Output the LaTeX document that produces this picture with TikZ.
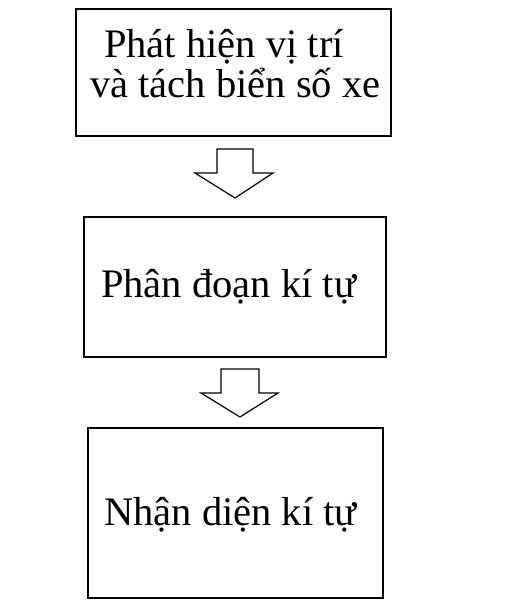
\documentclass[tikz,border=0pt]{standalone}
\usepackage{fontspec}
\setmainfont{Liberation Serif}
\begin{document}
\begin{tikzpicture}[x=1pt,y=-1pt,
  box/.style={draw=black,line width=1.8pt},
  lbl/.style={inner sep=0pt,anchor=base west,font=\fontsize{40.5}{41}\selectfont},
  blockarrow/.style={draw=black,line width=1.2pt,fill=white,line join=miter}]
\useasboundingbox (0,0) rectangle (504,616);
\draw[box] (76,9) rectangle (391,136);
\draw[box] (84,217) rectangle (386,357);
\draw[box] (88,428) rectangle (383,598);
\node[lbl] (t1a) at (104,57) {Phát hiện vị trí};
\node[lbl] (t1b) at (90,97) {và tách biển số xe};
\node[lbl] (t2) at (101,297) {Phân đoạn kí tự};
\node[lbl] (t3) at (104,525) {Nhận diện kí tự};
\draw[blockarrow] (217,149) -- (253,149) -- (253,173) -- (273,173) -- (235,198) -- (195,173) -- (217,173) -- cycle;
\draw[blockarrow] (221,369) -- (259,369) -- (259,393) -- (278,393) -- (240,417) -- (201,393) -- (221,393) -- cycle;
\end{tikzpicture}
\end{document}
